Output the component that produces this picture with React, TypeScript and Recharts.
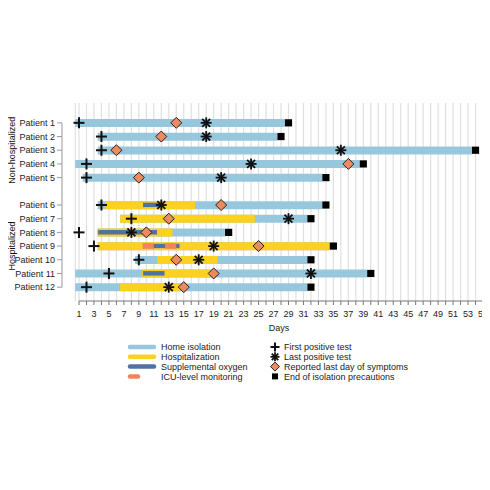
import { ComposedChart, Bar, Scatter, XAxis, YAxis, CartesianGrid, Legend } from 'recharts';

// one row per patient, ' ' is the empty row between the two groups
const patients = [
  'Patient 1', 'Patient 2', 'Patient 3', 'Patient 4', 'Patient 5', ' ',
  'Patient 6', 'Patient 7', 'Patient 8', 'Patient 9', 'Patient 10', 'Patient 11', 'Patient 12',
];

const isolation = [
  [0.5, 28.5], [3.5, 27.5], [3.5, 53.5], [0.5, 38.5], [1.5, 33.5], null,
  [3.5, 33.5], [6.5, 31.5], [3.5, 20.5], [3.5, 34.5], [8.5, 31.5], [0.5, 39.5], [0.5, 31.5],
];
const hospitalization = [
  null, null, null, null, null, null,
  [4.5, 16.5], [6.5, 24.5], [3.5, 13.5], [3.5, 34.5], [11.5, 19.5], [9.5, 18.5], [6.5, 14.5],
];
const oxygen = [
  null, null, null, null, null, null,
  [9.5, 12], null, [3.5, 11.5], [9.5, 14.5], null, [9.5, 12.5], null,
];
const icuFirst = [null, null, null, null, null, null, null, null, null, [9.5, 11], null, null, null];
const icuSecond = [null, null, null, null, null, null, null, null, null, [12.5, 14], null, null, null];

const firstPositive = [1, 4, 4, 2, 2, null, 4, 8, 1, 3, 9, 5, 2];
const lastPositive = [18, 18, 36, 24, 20, null, 12, 29, 8, 19, 17, 32, 13];
const symptomsEnd = [14, 12, 6, 37, 9, null, 20, 13, 10, 25, 14, 19, 15];
const isolationEnd = [29, 28, 54, 39, 34, null, 34, 32, 21, 35, 32, 40, 32];

const dayTicks = Array.from({ length: 55 }, (_, i) => i + 1);

const groups = [
  { label: 'Non-hospitalized', from: 'Patient 1', to: 'Patient 5' },
  { label: 'Hospitalized', from: 'Patient 6', to: 'Patient 12' },
];

const HOME = '#96c7dc';
const HOSP = '#fdd21f';
const O2 = '#5171a6';
const ICU = '#f2845b';
const DIAMOND = '#ef8a5e';

const W = 490;
const H = 480;
const PLOT_TOP = 103;
const PLOT_BOTTOM = 301;
const PAD_TOP = 13;
const PAD_BOTTOM = 7;
const BAND = (PLOT_BOTTOM - PLOT_TOP - PAD_TOP - PAD_BOTTOM) / patients.length;
const AXIS_X = 62;
const X_FIRST = 79; // where day 1 sits
const X_LAST = 483; // where day 55 sits
const DAY = (X_LAST - X_FIRST) / (dayTicks.length - 1);
const rowCenter = (name: string) => PLOT_TOP + PAD_TOP + BAND * (patients.indexOf(name) + 0.5);

const data = patients.map((name, i) => ({
  name,
  isolation: isolation[i],
  hospitalization: hospitalization[i],
  oxygen: oxygen[i],
  icuFirst: icuFirst[i],
  icuSecond: icuSecond[i],
  firstPositive: firstPositive[i],
  lastPositive: lastPositive[i],
  symptomsEnd: symptomsEnd[i],
  isolationEnd: isolationEnd[i],
}));

const ok = (cx: any, cy: any) => Number.isFinite(cx) && Number.isFinite(cy);

const PlusMark = ({ cx, cy, r = 5.5 }: any) =>
  ok(cx, cy) ? (
    <g stroke="#111" strokeWidth={2}>
      <line x1={cx - r} x2={cx + r} y1={cy} y2={cy} />
      <line x1={cx} x2={cx} y1={cy - r} y2={cy + r} />
    </g>
  ) : null;

const StarMark = ({ cx, cy, r = 5.5 }: any) => {
  if (!ok(cx, cy)) return null;
  const d = r * 0.72;
  return (
    <g stroke="#111" strokeWidth={1.8}>
      <line x1={cx - r} x2={cx + r} y1={cy} y2={cy} />
      <line x1={cx} x2={cx} y1={cy - r} y2={cy + r} />
      <line x1={cx - d} x2={cx + d} y1={cy - d} y2={cy + d} />
      <line x1={cx - d} x2={cx + d} y1={cy + d} y2={cy - d} />
    </g>
  );
};

const DiamondMark = ({ cx, cy, r = 5.5 }: any) =>
  ok(cx, cy) ? (
    <polygon
      points={`${cx},${cy - r} ${cx + r},${cy} ${cx},${cy + r} ${cx - r},${cy}`}
      fill={DIAMOND}
      stroke="#222"
      strokeWidth={1}
    />
  ) : null;

const SquareMark = ({ cx, cy, r = 3.6 }: any) =>
  ok(cx, cy) ? <rect x={cx - r} y={cy - r} width={r * 2} height={r * 2} fill="#000" /> : null;

function RowTick({ y, payload }: any) {
  const name = payload.value;
  const idx = patients.indexOf(name);
  return (
    <g>
      {idx === 0 && (
        <line x1={AXIS_X} x2={AXIS_X} y1={y} y2={y + (patients.length - 1) * BAND} stroke="#999" />
      )}
      {name.trim() !== '' && (
        <>
          <line x1={AXIS_X - 5} x2={AXIS_X} y1={y} y2={y} stroke="#999" />
          <text x={AXIS_X - 7} y={y} dy="0.35em" textAnchor="end" fontSize={9} fill="#222">
            {name}
          </text>
        </>
      )}
    </g>
  );
}

// axis line only runs from day 1 to day 55, so each tick draws its own piece
function DayTick({ x, y, payload }: any) {
  const v = payload.value;
  return (
    <g>
      {v < dayTicks[dayTicks.length - 1] && (
        <line x1={x} x2={x + DAY} y1={PLOT_BOTTOM} y2={PLOT_BOTTOM} stroke="#777" />
      )}
      {v % 2 === 1 && (
        <text x={x} y={y} dy="0.71em" textAnchor="middle" fontSize={9} fill="#222">
          {v}
        </text>
      )}
    </g>
  );
}

const areaLegend = [
  { label: 'Home isolation', color: HOME, len: 24 },
  { label: 'Hospitalization', color: HOSP, len: 24 },
  { label: 'Supplemental oxygen', color: O2, len: 24 },
  { label: 'ICU-level monitoring', color: ICU, len: 8 },
];
const markerLegend = [
  { label: 'First positive test', Mark: PlusMark },
  { label: 'Last positive test', Mark: StarMark },
  { label: 'Reported last day of symptoms', Mark: DiamondMark },
  { label: 'End of isolation precautions', Mark: SquareMark },
];

const LEGEND_TOP = 347;

// legend plus the rotated group labels, drawn on one overlay
function Overlay() {
  return (
    <svg width={W} height={H}>
      {groups.map((g) => {
        const cy = (rowCenter(g.from) + rowCenter(g.to)) / 2;
        return (
          <text key={g.label} transform={`translate(14.5, ${cy}) rotate(-90)`} textAnchor="middle" fontSize={9} fill="#111">
            {g.label}
          </text>
        );
      })}
      {areaLegend.map((item, i) => {
        const y = LEGEND_TOP + i * 9.8;
        return (
          <g key={item.label}>
            <line x1={130} x2={130 + item.len} y1={y} y2={y} stroke={item.color} strokeWidth={4.5} strokeLinecap="round" />
            <text x={161} y={y} dy="0.35em" fontSize={9} fill="#222">{item.label}</text>
          </g>
        );
      })}
      {markerLegend.map(({ label, Mark }, i) => {
        const y = LEGEND_TOP + i * 9.8;
        return (
          <g key={label}>
            <Mark cx={275} cy={y} r={label.startsWith('End') ? 3 : 4.5} />
            <text x={284} y={y} dy="0.35em" fontSize={9} fill="#222">{label}</text>
          </g>
        );
      })}
    </svg>
  );
}

const layerAxis = {
  type: 'category' as const,
  dataKey: 'name',
  allowDuplicatedCategory: false,
  padding: { top: PAD_TOP, bottom: PAD_BOTTOM },
};

const DOMAIN_MIN = 0.5;

export default function App() {
  return (
    <div style={{ margin: '-8px 0 0 -8px', width: W, height: H, fontFamily: "'Liberation Sans', Arial, sans-serif" }}>
      <ComposedChart
        width={W}
        height={H}
        data={data}
        layout="vertical"
        margin={{ top: PLOT_TOP, right: W - X_LAST, left: 0, bottom: H - PLOT_BOTTOM - 32 }}
      >
        <CartesianGrid horizontal={false} stroke="#e0e0e0" strokeWidth={1.2} />
        <XAxis
          type="number"
          domain={[DOMAIN_MIN, 55]}
          ticks={dayTicks}
          interval={0}
          height={32}
          tickSize={4}
          tickMargin={6}
          axisLine={false}
          stroke="#777"
          tick={<DayTick />}
          label={{ value: 'Days', position: 'insideBottom', offset: 2, fontSize: 9, fill: '#222' }}
        />
        <YAxis
          yAxisId="rows"
          {...layerAxis}
          width={X_FIRST - (1 - DOMAIN_MIN) * DAY}
          axisLine={false}
          tickLine={false}
          tickSize={0}
          tickMargin={0}
          interval={0}
          tick={<RowTick />}
        />
        <YAxis yAxisId="hosp" {...layerAxis} hide />
        <YAxis yAxisId="o2" {...layerAxis} hide />
        <YAxis yAxisId="icu1" {...layerAxis} hide />
        <YAxis yAxisId="icu2" {...layerAxis} hide />

        <Bar yAxisId="rows" dataKey="isolation" fill={HOME} barSize={8} isAnimationActive={false} />
        <Bar yAxisId="hosp" dataKey="hospitalization" fill={HOSP} barSize={8} isAnimationActive={false} />
        <Bar yAxisId="o2" dataKey="oxygen" fill={O2} stroke={HOSP} strokeWidth={1} barSize={5.5} isAnimationActive={false} />
        <Bar yAxisId="icu1" dataKey="icuFirst" fill={ICU} barSize={5.5} isAnimationActive={false} />
        <Bar yAxisId="icu2" dataKey="icuSecond" fill={ICU} barSize={5.5} isAnimationActive={false} />

        <Scatter yAxisId="rows" dataKey="isolationEnd" shape={<SquareMark />} isAnimationActive={false} />
        <Scatter yAxisId="rows" dataKey="symptomsEnd" shape={<DiamondMark />} isAnimationActive={false} />
        <Scatter yAxisId="rows" dataKey="lastPositive" shape={<StarMark />} isAnimationActive={false} />
        <Scatter yAxisId="rows" dataKey="firstPositive" shape={<PlusMark />} isAnimationActive={false} />

        <Legend
          verticalAlign="middle"
          layout="horizontal"
          wrapperStyle={{ position: 'absolute', top: 0, left: 0, width: W, height: H, pointerEvents: 'none' }}
          content={<Overlay />}
        />
      </ComposedChart>
    </div>
  );
}
